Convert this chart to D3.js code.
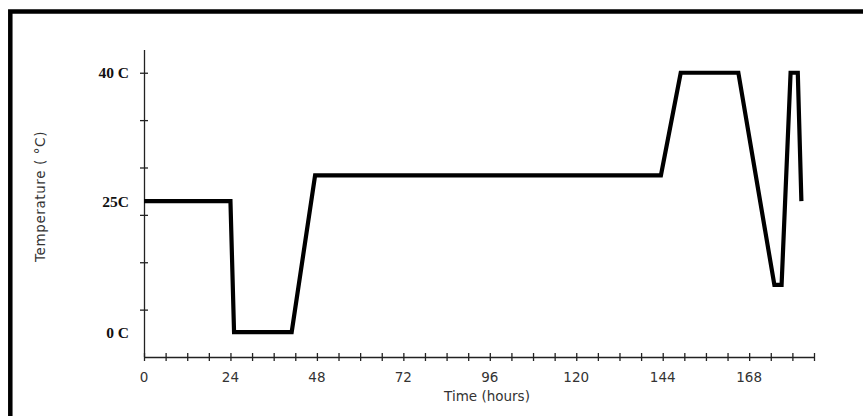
<!DOCTYPE html>
<html>
<head>
<meta charset="utf-8">
<script src="https://cdn.jsdelivr.net/npm/d3@7"></script>
<style>
  html, body { margin: 0; padding: 0; background: #fff; }
  svg { display: block; }
</style>
</head>
<body>
<svg id="chart" width="863" height="416"></svg>
<script>
// Temperature profile over time
const hours = [0, 24, 25, 41, 47.5, 143.5, 149, 165, 175, 177, 179.5, 181.5, 182.5];
const temps = [25, 25, 0, 0, 28, 28, 40, 40, 9, 9, 40, 40, 25];

// Axis annotation
const xTickValues = d3.range(0, 187, 6);
const xLabelValues = [0, 24, 48, 72, 96, 120, 144, 168];
const yLabelTemps = [40, 25, 0];
const yLabelTexts = ["40 C", "25C", "0 C"];
const yDivisions = [1, 2, 3, 4, 5, 6];

(function () {
  const svg = d3.select("#chart");

  // Outer frame (runs off the right and bottom edges)
  svg.append("rect")
    .attr("x", 10.3).attr("y", 11.5)
    .attr("width", 900).attr("height", 450)
    .attr("fill", "none").attr("stroke", "#000").attr("stroke-width", 4.5);

  const plotLeft = 144, plotRight = 814, plotBottom = 357, plotTop = 50;

  const x = d3.scaleLinear().domain([0, 186]).range([plotLeft, plotRight]);
  // evenly spaced divisions along the vertical axis
  const yDiv = d3.scaleLinear().domain([0, 6.48]).range([plotBottom, plotTop]);
  // temperatures sit on a piecewise scale over those divisions
  const y = d3.scaleLinear().domain([0, 25, 40]).range([0.525, 3.29, 6.0].map(yDiv));

  const axisColor = "#222";

  // X axis with ticks crossing the line
  const xAxis = svg.append("g").attr("transform", `translate(0,${plotBottom})`)
    .call(d3.axisBottom(x).tickValues(xTickValues).tickSize(4).tickFormat(""));
  xAxis.select(".domain").attr("d", `M${plotLeft},0.5H${plotRight}`).attr("stroke", axisColor).attr("stroke-width", 1.3);
  xAxis.selectAll(".tick line").attr("y1", -4).attr("y2", 4).attr("stroke", axisColor).attr("stroke-width", 1.3);

  svg.append("g").selectAll("text").data(xLabelValues).join("text")
    .attr("x", d => x(d)).attr("y", 381.5)
    .attr("text-anchor", "middle")
    .attr("font-family", "DejaVu Sans, sans-serif").attr("font-size", 13.5)
    .attr("fill", "#333")
    .text(d => d);

  svg.append("text")
    .attr("x", 487).attr("y", 401)
    .attr("text-anchor", "middle")
    .attr("font-family", "DejaVu Sans, sans-serif").attr("font-size", 13.5)
    .attr("fill", "#333")
    .text("Time (hours)");

  // Y axis
  const yAxis = svg.append("g").attr("transform", `translate(${plotLeft},0)`)
    .call(d3.axisLeft(yDiv).tickValues(yDivisions).tickSize(4).tickFormat(""));
  yAxis.select(".domain").attr("d", `M0.5,${plotTop}V${plotBottom}`).attr("stroke", axisColor).attr("stroke-width", 1.3);
  yAxis.selectAll(".tick line").attr("x1", -4).attr("x2", 4).attr("stroke", axisColor).attr("stroke-width", 1.3);

  svg.append("g").selectAll("text").data(yLabelTemps).join("text")
    .attr("x", 129).attr("y", d => y(d) + 5.5)
    .attr("text-anchor", "end")
    .attr("font-family", "Liberation Serif, Times New Roman, serif")
    .attr("font-weight", "bold").attr("font-size", 15.5)
    .attr("fill", "#111")
    .text((d, i) => yLabelTexts[i]);

  svg.append("text")
    .attr("transform", "translate(45,262) rotate(-90)")
    .attr("text-anchor", "start")
    .attr("font-family", "DejaVu Sans, sans-serif").attr("font-size", 13.5)
    .attr("letter-spacing", 0.6)
    .attr("fill", "#333")
    .text("Temperature ( °C)");

  // Profile line
  const line = d3.line().x(d => x(d[0])).y(d => y(d[1]));
  svg.append("path")
    .datum(hours.map((h, i) => [h, temps[i]]))
    .attr("d", line)
    .attr("fill", "none").attr("stroke", "#000")
    .attr("stroke-width", 4.2).attr("stroke-linejoin", "miter").attr("stroke-miterlimit", 10);
})();
</script>
</body>
</html>
